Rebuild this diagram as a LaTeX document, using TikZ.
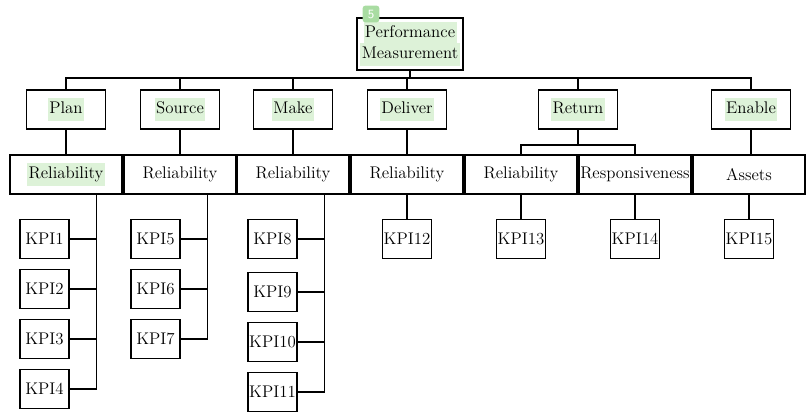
\documentclass[tikz,border=0pt]{standalone}
\usepackage{xcolor}
\usepackage{tikz}
\usetikzlibrary{calc,shadows}
\definecolor{hlgreen}{HTML}{DDF2D8}
\definecolor{badgegreen}{HTML}{A9DCA2}
\newcommand{\hlt}[1]{{\setlength{\fboxsep}{1pt}\colorbox{hlgreen}{\strut #1}}}
\tikzset{box/.style={draw,line width=1pt,fill=white,inner sep=0pt,minimum height=0.975cm,font=\fontsize{12}{14}\selectfont,drop shadow={opacity=0.12,shadow xshift=0.6pt,shadow yshift=-0.6pt}},
  head/.style={box,minimum width=2.65cm,minimum height=1.3cm,align=center},
  area/.style={box,minimum width=1.975cm}, attr/.style={box,minimum width=2.8cm}, kpi/.style={box,minimum width=1.225cm},
  link/.style={line width=1pt}, tag/.style={fill=badgegreen,text=white,rounded corners=2pt,minimum size=0.42cm,inner sep=0pt,font=\sffamily\small}}

\begin{document}
\begin{tikzpicture}[x=0.025cm,y=-0.025cm]
\useasboundingbox (0,0) rectangle (809,417);
\node[head] (pm) at (410,44) {\hlt{Performance}\\[-2pt]\hlt{Measurement}};
\node[tag] (badge) at (371,14) {5};
\node[area] (plan) at (66,109.5) {\hlt{Plan}}; \node[area] (source) at (180,109.5) {\hlt{Source}}; \node[area] (make) at (293,109.5) {\hlt{Make}};
\node[area] (deliver) at (407,109.5) {\hlt{Deliver}}; \node[area] (return) at (578,109.5) {\hlt{Return}}; \node[area] (enable) at (751,109.5) {\hlt{Enable}};
\node[attr] (r1) at (66,174.5) {\hlt{Reliability}}; \node[attr] (r2) at (180,174.5) {Reliability}; \node[attr] (r3) at (293,174.5) {Reliability};
\node[attr] (r4) at (407,174.5) {Reliability}; \node[attr] (r5) at (521,174.5) {Reliability}; \node[attr] (r6) at (635,174.5) {Responsiveness}; \node[attr] (r7) at (749,174.5) {Assets};
\node[kpi] (k1) at (44.5,239) {KPI1}; \node[kpi] (k2) at (44.5,289) {KPI2}; \node[kpi] (k3) at (44.5,339) {KPI3}; \node[kpi] (k4) at (44.5,389) {KPI4};
\node[kpi] (k5) at (155.5,239) {KPI5}; \node[kpi] (k6) at (155.5,289) {KPI6}; \node[kpi] (k7) at (155.5,339) {KPI7};
\node[kpi] (k8) at (272.5,239) {KPI8}; \node[kpi] (k9) at (272.5,292) {KPI9}; \node[kpi] (k10) at (272.5,342) {KPI10}; \node[kpi] (k11) at (272.5,392) {KPI11};
\node[kpi] (k12) at (407,239) {KPI12}; \node[kpi] (k13) at (521,239) {KPI13}; \node[kpi] (k14) at (635,239) {KPI14}; \node[kpi] (k15) at (749,239) {KPI15};
\coordinate (bus) at (410,78); \coordinate (split) at (578,145);
\draw[link] (pm.south) -- (bus);
\foreach \a in {plan,source,make,deliver,return,enable} \draw[link] (\a.north) |- (bus);
\draw[link] (plan) -- (r1); \draw[link] (source) -- (r2); \draw[link] (make) -- (r3); \draw[link] (deliver) -- (r4); \draw[link] (enable.south) -- (enable.south |- r7.north);
\draw[link] (return.south) -- (split); \draw[link] (r5.north) |- (split); \draw[link] (r6.north) |- (split);
\coordinate (v1) at ($(k1.east)+(27,0)$); \coordinate (v2) at ($(k5.east)+(27,0)$); \coordinate (v3) at ($(k8.east)+(27,0)$);
\draw[link] (r1.south -| v1) -- (v1 |- k4.east); \foreach \i in {1,...,4} \draw[link] (k\i.east) -- (k\i.east -| v1);
\draw[link] (r2.south -| v2) -- (v2 |- k7.east); \foreach \i in {5,6,7} \draw[link] (k\i.east) -- (k\i.east -| v2);
\draw[link] (r3.south -| v3) -- (v3 |- k11.east); \foreach \i in {8,...,11} \draw[link] (k\i.east) -- (k\i.east -| v3);
\draw[link] (r4.south) -- (k12.north); \draw[link] (r5.south) -- (k13.north); \draw[link] (r6.south) -- (k14.north); \draw[link] (r7.south) -- (k15.north);
\end{tikzpicture}
\end{document}
